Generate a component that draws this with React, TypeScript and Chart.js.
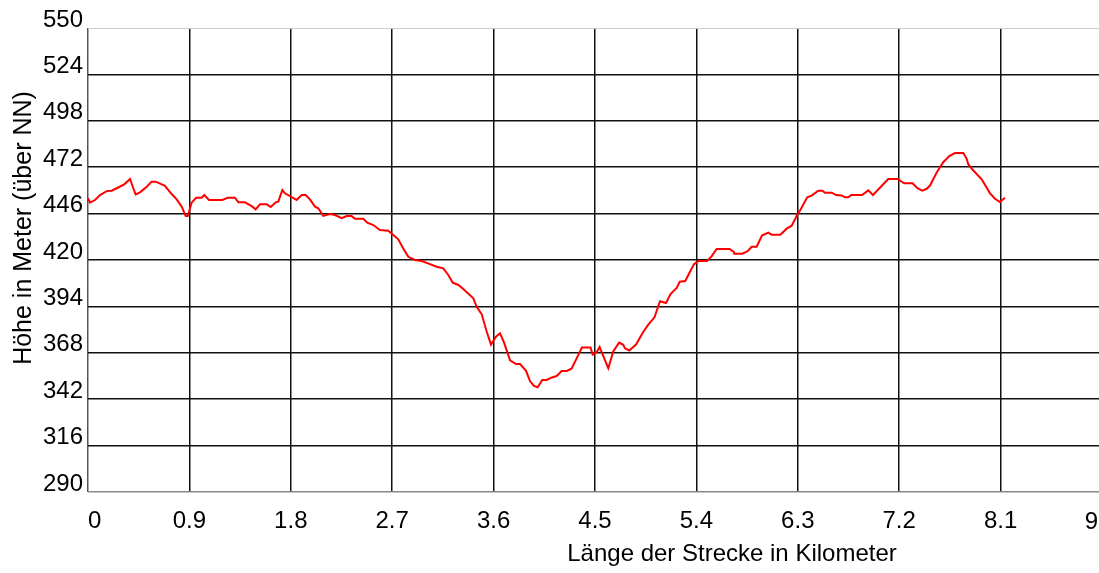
import React, { useEffect, useRef } from "react";
import { Chart, registerables } from "chart.js";

Chart.register(...registerables);

const distanceKm = [0, 0.018, 0.062, 0.107, 0.166, 0.21, 0.255, 0.322, 0.373, 0.402, 0.423, 0.462, 0.521, 0.565, 0.601, 0.683, 0.737, 0.787, 0.832, 0.867, 0.885, 0.92, 0.959, 1.009, 1.032, 1.074, 1.192, 1.24, 1.305, 1.334, 1.393, 1.453, 1.488, 1.527, 1.586, 1.622, 1.666, 1.689, 1.725, 1.748, 1.802, 1.852, 1.897, 1.932, 1.97, 2.015, 2.044, 2.088, 2.148, 2.192, 2.252, 2.296, 2.34, 2.37, 2.443, 2.479, 2.532, 2.592, 2.665, 2.71, 2.754, 2.798, 2.843, 2.902, 2.962, 3.035, 3.095, 3.153, 3.198, 3.237, 3.287, 3.331, 3.42, 3.45, 3.494, 3.539, 3.577, 3.621, 3.657, 3.692, 3.746, 3.799, 3.834, 3.887, 3.923, 3.958, 3.991, 4.032, 4.071, 4.118, 4.16, 4.204, 4.251, 4.293, 4.337, 4.384, 4.46, 4.479, 4.513, 4.541, 4.618, 4.662, 4.714, 4.751, 4.766, 4.804, 4.864, 4.929, 4.973, 5.028, 5.077, 5.13, 5.17, 5.225, 5.252, 5.301, 5.343, 5.379, 5.417, 5.494, 5.536, 5.58, 5.695, 5.733, 5.736, 5.807, 5.855, 5.89, 5.935, 5.982, 6.038, 6.068, 6.145, 6.204, 6.246, 6.302, 6.319, 6.384, 6.422, 6.482, 6.519, 6.541, 6.601, 6.639, 6.689, 6.719, 6.748, 6.775, 6.87, 6.926, 6.967, 7.103, 7.186, 7.244, 7.318, 7.362, 7.404, 7.444, 7.473, 7.533, 7.591, 7.645, 7.695, 7.769, 7.799, 7.813, 7.85, 7.932, 8.005, 8.05, 8.094, 8.139];

const elevationM = [454.6, 452.1, 453.6, 456.4, 458.6, 458.8, 460.2, 462.4, 465.4, 460.2, 456.8, 457.9, 461.1, 463.9, 463.9, 461.6, 457.4, 454.0, 449.9, 444.6, 444.6, 452.1, 454.9, 454.9, 456.4, 453.6, 453.6, 454.9, 454.9, 452.3, 452.3, 450.2, 448.4, 451.2, 451.2, 449.7, 452.3, 452.7, 459.2, 457.4, 455.5, 453.6, 456.4, 456.4, 454.0, 449.9, 449.0, 444.8, 445.8, 445.2, 443.4, 444.6, 444.6, 443.1, 443.1, 440.9, 439.6, 436.8, 436.4, 434.0, 431.6, 426.5, 421.8, 420.0, 419.4, 417.7, 416.2, 415.3, 411.6, 407.3, 406.0, 403.7, 398.5, 393.8, 389.7, 379.8, 372.6, 377.0, 378.9, 373.8, 363.8, 361.7, 361.7, 358.0, 352.2, 349.4, 348.7, 352.8, 352.8, 354.2, 355.0, 357.8, 357.8, 359.2, 364.9, 371.0, 371.0, 367.0, 368.2, 371.2, 359.3, 368.8, 373.7, 372.5, 370.5, 369.3, 372.6, 379.8, 383.8, 387.9, 396.9, 395.9, 400.9, 404.3, 407.8, 408.2, 413.4, 417.7, 419.4, 419.4, 422.2, 426.2, 426.2, 424.5, 423.5, 423.5, 424.9, 427.4, 427.4, 433.7, 435.3, 434.2, 434.2, 437.7, 439.2, 446.2, 447.6, 455.1, 456.1, 458.8, 458.8, 457.7, 457.7, 456.4, 456.2, 455.1, 455.1, 456.4, 456.4, 459.0, 456.4, 465.4, 465.4, 463.0, 463.0, 460.2, 458.9, 459.9, 461.7, 469.0, 474.8, 478.2, 479.9, 479.9, 476.7, 473.7, 470.7, 465.2, 457.5, 454.3, 452.5, 454.9];

const xTickValues = [0, 0.9, 1.8, 2.7, 3.6, 4.5, 5.4, 6.3, 7.2, 8.1, 9];
const yTickValues = [290, 316, 342, 368, 394, 420, 446, 472, 498, 524, 550];

const xTitle = "Länge der Strecke in Kilometer";
const yTitle = "Höhe in Meter (über NN)";

const FONT_FAMILY = '"Liberation Sans", Arial, Helvetica, sans-serif';
const LAST_X = xTickValues[xTickValues.length - 1];

const axisTitlesPlugin = {
  id: "axisTitles",
  afterDraw(chart: any) {
    const { ctx, chartArea, scales } = chart;
    ctx.save();
    ctx.fillStyle = "#000";
    ctx.font = `24px ${FONT_FAMILY}`;
    ctx.textAlign = "center";
    ctx.textBaseline = "alphabetic";
    ctx.fillText(xTitle, chartArea.left + 644, chartArea.bottom + 69);
    // last x tick label, kept inside the visible page
    const xs = scales.x;
    ctx.textAlign = "right";
    ctx.fillText(String(LAST_X), xs.getPixelForValue(LAST_X) - 4, chartArea.bottom + 37);
    ctx.textAlign = "center";
    ctx.font = `25px ${FONT_FAMILY}`;
    ctx.translate(31, chartArea.top + 200);
    ctx.rotate(-Math.PI / 2);
    ctx.fillText(yTitle, 0, 0);
    ctx.restore();
  },
};

export default function App() {
  const ref = useRef<HTMLCanvasElement>(null);

  useEffect(() => {
    if (!ref.current) return;
    const points = distanceKm.map((x, i) => ({ x, y: elevationM[i] }));
    const chart = new Chart(ref.current, {
      type: "line",
      data: {
        datasets: [
          {
            data: points,
            borderColor: "#ff0000",
            borderWidth: 2,
            pointRadius: 0,
            tension: 0,
            fill: false,
          },
        ],
      },
      options: {
        animation: false,
        responsive: false,
        devicePixelRatio: 1,
        layout: { padding: { top: 28, right: 18, bottom: 0, left: 0 } },
        plugins: {
          legend: { display: false },
          tooltip: { enabled: false },
        },
        scales: {
          x: {
            type: "linear",
            min: 0,
            max: 9,
            afterBuildTicks: (s: any) => {
              s.ticks = xTickValues.map((v) => ({ value: v }));
            },
            afterFit: (s: any) => {
              s.height = 81;
            },
            border: { display: false },
            grid: {
              drawTicks: false,
              lineWidth: 1.5,
              color: (c: any) => (c.tick && c.tick.value === 0 ? "#555" : "#111"),
            },
            ticks: {
              align: "inner",
              autoSkip: false,
              maxRotation: 0,
              padding: 15,
              color: "#000",
              font: { family: FONT_FAMILY, size: 24 },
              callback: (v: any) => (v === LAST_X ? "" : String(v)),
            },
          },
          y: {
            type: "linear",
            min: 290,
            max: 550,
            afterBuildTicks: (s: any) => {
              s.ticks = yTickValues.map((v) => ({ value: v }));
            },
            afterFit: (s: any) => {
              s.width = 88;
            },
            border: { display: false },
            grid: {
              drawTicks: false,
              lineWidth: (c: any) => (c.tick && c.tick.value === 550 ? 1 : 1.5),
              color: (c: any) => {
                const v = c.tick ? c.tick.value : null;
                if (v === 550) return "#cccccc";
                if (v === 290) return "#888888";
                return "#111";
              },
            },
            ticks: {
              autoSkip: false,
              padding: 5,
              labelOffset: -8,
              color: "#000",
              font: { family: FONT_FAMILY, size: 24 },
              callback: (v: any) => String(v),
            },
          },
        },
      },
      plugins: [axisTitlesPlugin],
    } as any);
    return () => chart.destroy();
  }, []);

  return (
    <div
      style={{
        position: "fixed",
        left: 0,
        top: 0,
        width: 1099,
        height: 573,
        overflow: "hidden",
        background: "#fff",
      }}
    >
      <canvas
        ref={ref}
        width={1120}
        height={573}
        style={{ display: "block", width: 1120, height: 573 }}
      />
    </div>
  );
}
